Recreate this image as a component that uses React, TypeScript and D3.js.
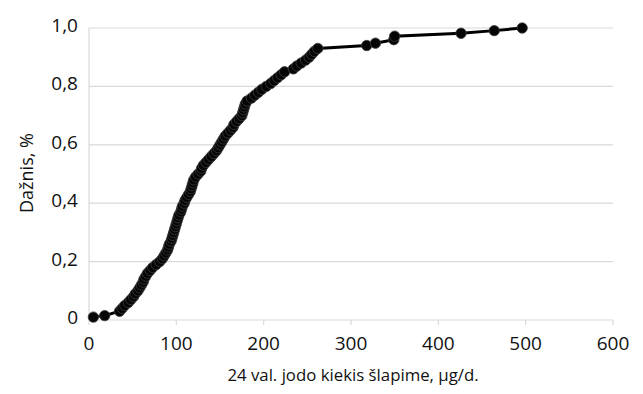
import * as d3 from 'd3';

const xValues = [
  5, 18, 35, 38, 41, 45, 48, 51, 53, 56,
  58, 60, 62, 63, 65, 67, 70, 73, 77, 81,
  84, 86, 88, 90, 91, 92, 94, 95, 96, 97,
  98, 99, 100, 101, 102, 103, 105, 106, 107, 109,
  110, 112, 114, 116, 117, 118, 119, 120, 122, 125,
  128, 129, 131, 134, 137, 140, 143, 146, 148, 150,
  152, 154, 156, 159, 162, 165, 166, 169, 172, 175,
  176, 177, 178, 179, 181, 186, 190, 194, 198, 203,
  208, 212, 216, 220, 224, 234, 238, 243, 248, 252,
  255, 258, 262, 318, 328, 349, 350, 426, 464, 496,
];
const yValues = [
  0.01, 0.015, 0.03, 0.04, 0.05, 0.06, 0.07, 0.08, 0.09, 0.1,
  0.11, 0.12, 0.13, 0.14, 0.15, 0.16, 0.17, 0.18, 0.19, 0.2,
  0.21, 0.22, 0.23, 0.24, 0.25, 0.26, 0.27, 0.28, 0.29, 0.3,
  0.31, 0.32, 0.33, 0.34, 0.35, 0.36, 0.37, 0.38, 0.39, 0.4,
  0.41, 0.42, 0.43, 0.44, 0.45, 0.46, 0.47, 0.48, 0.49, 0.5,
  0.51, 0.52, 0.53, 0.54, 0.55, 0.56, 0.57, 0.58, 0.59, 0.6,
  0.61, 0.62, 0.63, 0.64, 0.65, 0.66, 0.67, 0.68, 0.69, 0.7,
  0.71, 0.72, 0.73, 0.74, 0.75, 0.76, 0.77, 0.78, 0.79, 0.8,
  0.81, 0.82, 0.83, 0.84, 0.85, 0.86, 0.87, 0.88, 0.89, 0.9,
  0.91, 0.92, 0.93, 0.94, 0.948, 0.96, 0.972, 0.982, 0.991, 1.0,
];
const xTicks = [0, 100, 200, 300, 400, 500, 600];
const yTicks = [0, 0.2, 0.4, 0.6, 0.8, 1.0];
const yTickLabels = ['0', '0,2', '0,4', '0,6', '0,8', '1,0'];
const xTitle = '24 val. jodo kiekis šlapime, µg/d.';
const yTitle = 'Dažnis, %';

const W = 643;
const H = 394;
const font = '"Open Sans", "DejaVu Sans", sans-serif';

export default function App() {
  const x = d3.scaleLinear().domain([0, 600]).range([89, 613]);
  const y = d3.scaleLinear().domain([0, 1]).range([320, 28]);
  const pts = xValues.map((v, i) => [v, yValues[i]] as [number, number]);
  const line = d3.line<[number, number]>().x(d => x(d[0])).y(d => y(d[1]));

  return (
    <svg width={W} height={H} style={{ position: 'absolute', left: 0, top: 0, background: '#fff' }}>
      {yTicks.slice(1).map(t => (
        <line key={t} x1={x(0)} x2={x(600)} y1={y(t)} y2={y(t)} stroke="#d9d9d9" strokeWidth={1.2} />
      ))}
      <line x1={x(0)} x2={x(0)} y1={y(1)} y2={y(0)} stroke="#d9d9d9" strokeWidth={1.2} />
      <line x1={x(0)} x2={x(600)} y1={y(0)} y2={y(0)} stroke="#d9d9d9" strokeWidth={1.2} />
      {xTicks.map(t => (
        <line key={t} x1={x(t)} x2={x(t)} y1={y(0)} y2={y(0) + 5} stroke="#d9d9d9" strokeWidth={1.2} />
      ))}
      {xTicks.map(t => (
        <text key={t} x={x(t)} y={350} textAnchor="middle" fontFamily={font} fontSize={19} fill="#111">
          {t}
        </text>
      ))}
      {yTicks.map((t, i) => (
        <text key={t} x={78} y={y(t) + 4} textAnchor="end" fontFamily={font} fontSize={19} fill="#111">
          {yTickLabels[i]}
        </text>
      ))}
      <text x={(x(0) + x(600)) / 2 + 2} y={381} textAnchor="middle" fontFamily={font} fontSize={16.8} fill="#111">
        {xTitle}
      </text>
      <text
        transform={`translate(33,173) rotate(-90)`}
        textAnchor="middle"
        fontFamily={font}
        fontSize={18}
        fill="#111"
      >
        {yTitle}
      </text>
      <path d={line(pts) || ''} fill="none" stroke="#000" strokeWidth={3} />
      {pts.map((d, i) => (
        <circle key={i} cx={x(d[0])} cy={y(d[1])} r={5.2} fill="#050505" stroke="#3c3c3c" strokeWidth={0.8} />
      ))}
    </svg>
  );
}
